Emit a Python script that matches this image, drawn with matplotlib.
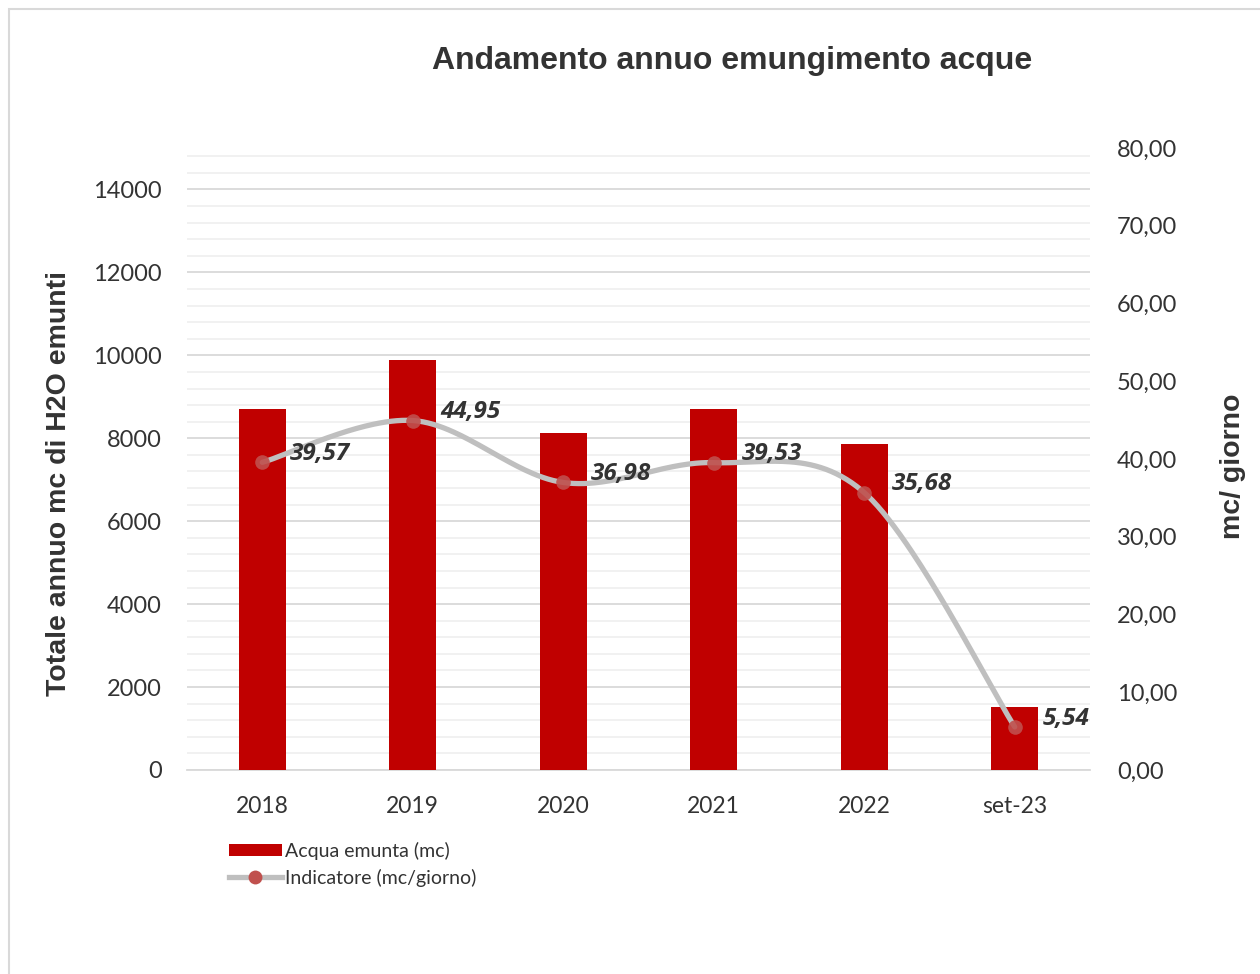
import numpy as np
import matplotlib
matplotlib.use("Agg")
import matplotlib.pyplot as plt
from matplotlib.patches import Rectangle, Patch
from matplotlib.lines import Line2D
from matplotlib.ticker import MultipleLocator, FixedLocator

# Data
categories = ["2018", "2019", "2020", "2021", "2022", "set-23"]
acqua_emunta = [8705, 9889, 8136, 8697, 7850, 1520]          # mc per anno
indicatore = [39.57, 44.95, 36.98, 39.53, 35.68, 5.54]       # mc/giorno
left_ticks = [0, 2000, 4000, 6000, 8000, 10000, 12000, 14000]
right_ticks = [0, 10, 20, 30, 40, 50, 60, 70, 80]

TXT = "#333333"
BAR = "#C00000"
LINE = "#BFBFBF"
MARK = "#C0504D"

W, H = 1260, 974
fig = plt.figure(figsize=(W / 100, H / 100), dpi=100)

# outer chart border
fig.patches.append(Rectangle((9 / W, -0.05), 1.2, 1 - 9 / H + 0.05, transform=fig.transFigure,
                             fill=False, edgecolor="#D9D9D9", linewidth=1.5, zorder=0))

ax = fig.add_axes([187 / W, 1 - 770 / H, (1090 - 187) / W, (770 - 148) / H])
ax2 = ax.twinx()

x = np.arange(len(categories))

# bars
ax.bar(x, acqua_emunta, width=0.31, color=BAR, zorder=3, label="Acqua emunta (mc)")
ax.set_xlim(-0.5, len(categories) - 0.5)
ax.set_ylim(0, 15000)
ax.yaxis.set_major_locator(FixedLocator(left_ticks))
ax.yaxis.set_minor_locator(MultipleLocator(400))
ax.grid(which="minor", axis="y", color="#F0F0F0", linewidth=1.3, zorder=0)
ax.grid(which="major", axis="y", color="#D9D9D9", linewidth=1.3, zorder=0)
ax.set_axisbelow(True)
for s in ["top", "right", "left"]:
    ax.spines[s].set_visible(False)
ax.spines["bottom"].set_color("#D9D9D9")
ax.spines["bottom"].set_linewidth(1.3)
ax.tick_params(axis="both", which="both", length=0)
ax.set_xticks(x)
ax.set_xticklabels(categories, fontsize=16.5, color=TXT, family="Lato")
ax.tick_params(axis="x", pad=19)
ax.tick_params(axis="y", pad=18)
for lab in ax.get_yticklabels():
    lab.set_fontsize(17)
    lab.set_color(TXT)
    lab.set_family("Lato")
ax.set_ylabel("Totale annuo mc di H2O emunti", fontsize=20.5, fontweight="bold",
              color=TXT, family="Liberation Sans")
ax.yaxis.set_label_coords(72 / W, 1 - 484 / H, transform=fig.transFigure)

# smoothed indicator line (cubic Bezier through points, Catmull-Rom tangents)
def smooth(xs, ys, n=60):
    px = np.asarray(xs, float)
    py = np.asarray(ys, float)
    ox, oy = [], []
    for i in range(len(px) - 1):
        p0 = np.array([px[max(i - 1, 0)], py[max(i - 1, 0)]])
        p1 = np.array([px[i], py[i]])
        p2 = np.array([px[i + 1], py[i + 1]])
        p3 = np.array([px[min(i + 2, len(px) - 1)], py[min(i + 2, len(px) - 1)]])
        c1 = p1 + (p2 - p0) / 6
        c2 = p2 - (p3 - p1) / 6
        t = np.linspace(0, 1, n)[:, None]
        pts = ((1 - t) ** 3) * p1 + 3 * ((1 - t) ** 2) * t * c1 + 3 * (1 - t) * t ** 2 * c2 + t ** 3 * p2
        ox.extend(pts[:, 0])
        oy.extend(pts[:, 1])
    return ox, oy

sx, sy = smooth(x, indicatore)
ax2.plot(sx, sy, color=LINE, linewidth=3.8, solid_capstyle="round", zorder=4)
ax2.plot(x, indicatore, linestyle="none", marker="o", markersize=10.5,
         markerfacecolor=MARK, markeredgecolor="none", alpha=0.9, zorder=5)
for xi, v in zip(x, indicatore):
    ax2.annotate(f"{v:.2f}".replace(".", ","), (xi, v), xytext=(20, 6),
                 textcoords="offset points", ha="left", va="center",
                 fontsize=17.5, fontweight="bold", fontstyle="italic",
                 color=TXT, family="Open Sans", zorder=6)

ax2.set_ylim(0, 80)
ax2.yaxis.set_major_locator(FixedLocator(right_ticks))
ax2.set_yticklabels([f"{t:.2f}".replace(".", ",") for t in right_ticks])
for s in ["top", "right", "left", "bottom"]:
    ax2.spines[s].set_visible(False)
ax2.tick_params(axis="y", length=0, pad=19.5)
for lab in ax2.get_yticklabels():
    lab.set_fontsize(17)
    lab.set_color(TXT)
    lab.set_family("Lato")
ax2.set_ylabel("mc/ giorno", fontsize=20.5, fontweight="bold", color=TXT,
               family="Liberation Sans", rotation=90)
ax2.yaxis.set_label_coords(1220 / W, 1 - 466 / H, transform=fig.transFigure)

# title
fig.text(732 / W, 1 - 61 / H, "Andamento annuo emungimento acque", ha="center", va="center",
         fontsize=23, fontweight="bold", color=TXT, family="Liberation Sans")

# legend
handles = [Patch(facecolor=BAR, edgecolor="none"),
           Line2D([0], [0], color=LINE, linewidth=3.8, marker="o", markersize=10,
                  markerfacecolor=MARK, markeredgecolor="none")]
leg = fig.legend(handles, ["Acqua emunta (mc)", "Indicatore (mc/giorno)"],
                 loc="upper left", bbox_to_anchor=(229 / W, 1 - 842 / H), frameon=False,
                 prop={"family": "Lato", "size": 14}, handlelength=2.7, handleheight=0.6,
                 handletextpad=0.2, labelspacing=0.45, borderaxespad=0, borderpad=0)
for t in leg.get_texts():
    t.set_color(TXT)

fig.savefig("out.png", dpi=100)
